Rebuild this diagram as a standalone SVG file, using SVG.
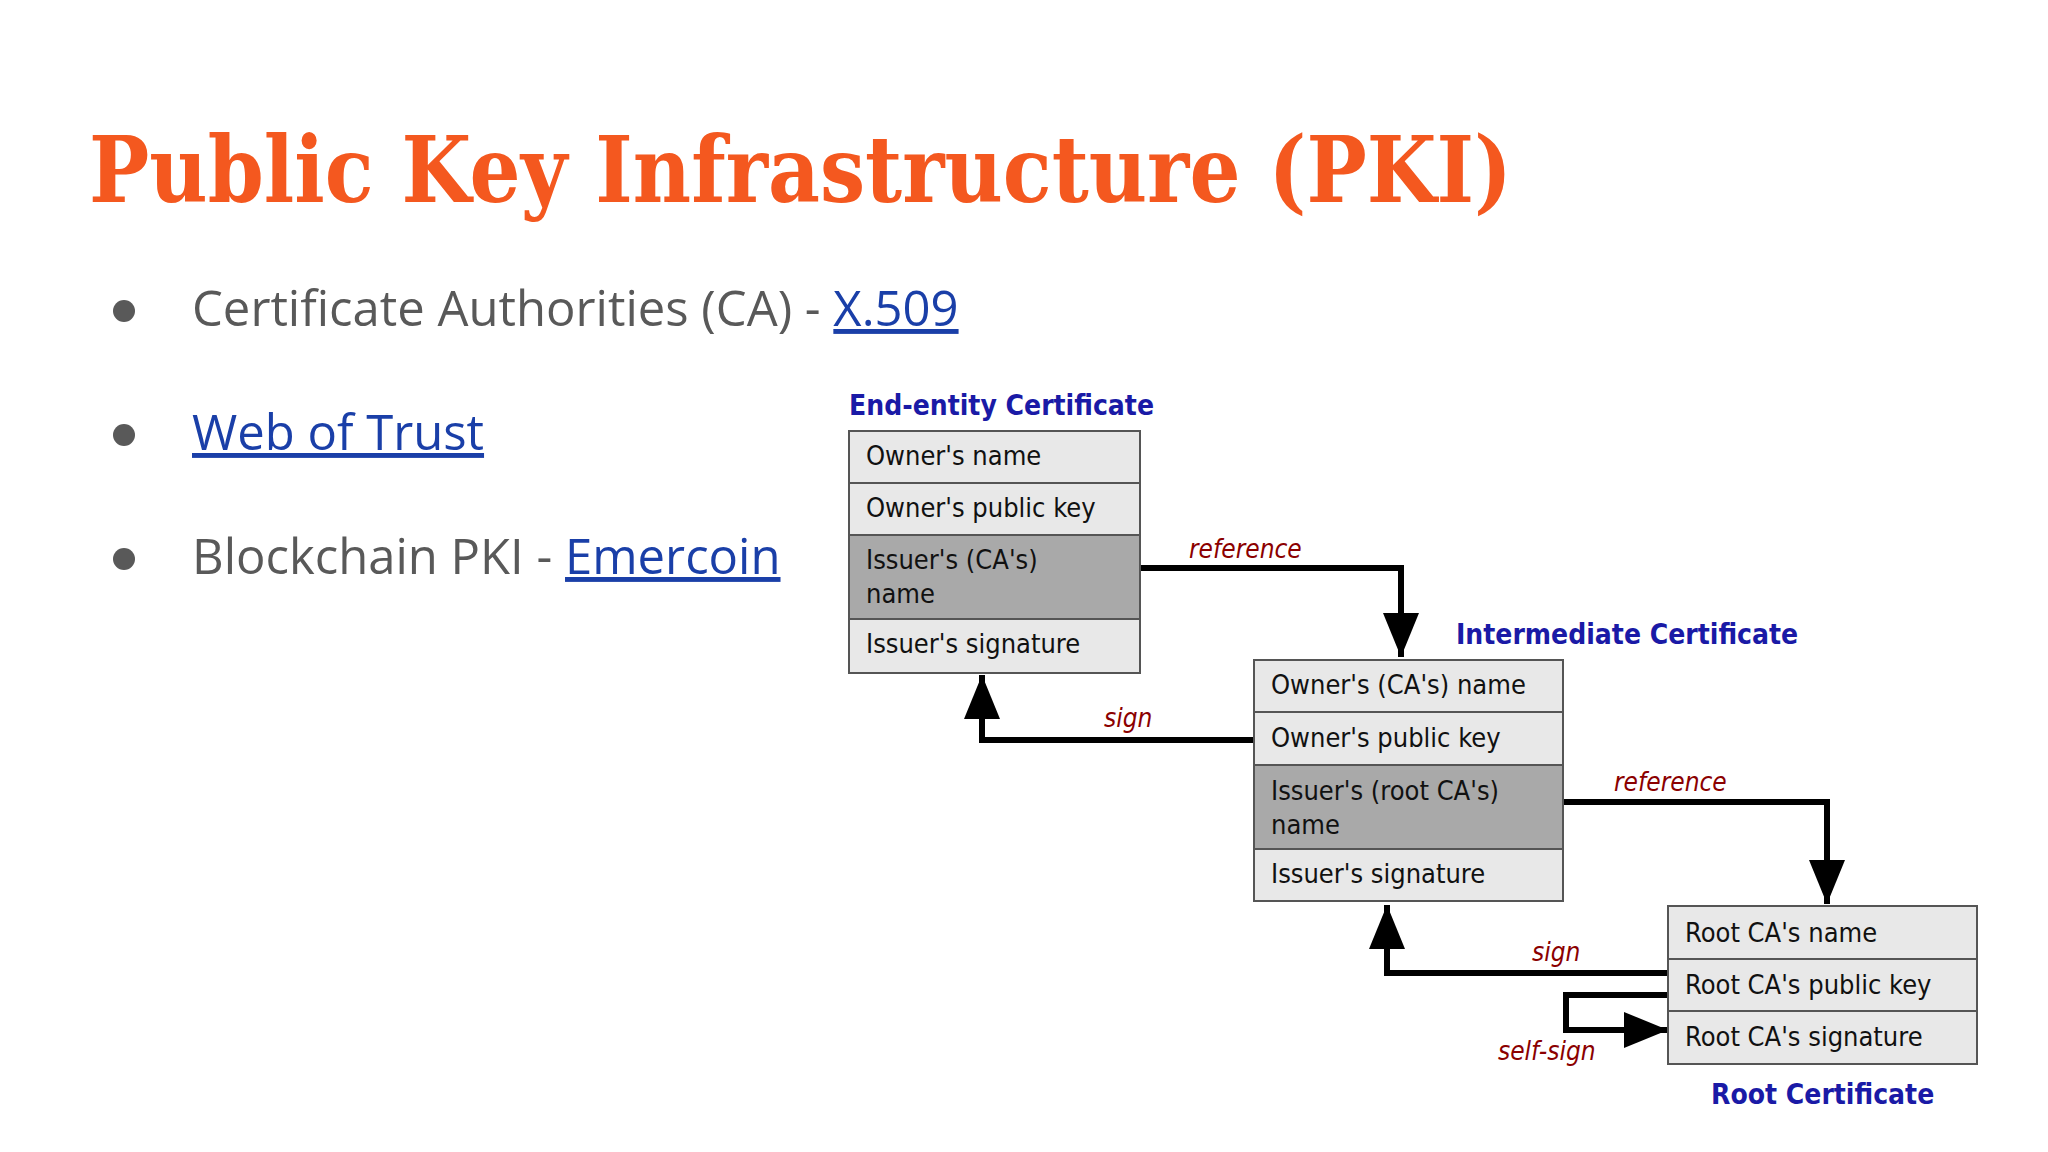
<svg xmlns="http://www.w3.org/2000/svg" width="2048" height="1152" viewBox="0 0 2048 1152">
<style>
.title{font-family:"DejaVu Serif",serif;font-weight:bold;font-size:92px;fill:#f4581f}
.bul{font-family:"Open Sans","Liberation Sans",sans-serif;font-size:49px;fill:#595959}
.lnk{fill:#1a3fa8;text-decoration:underline}
.hdr{font-family:"DejaVu Sans Condensed","DejaVu Sans",sans-serif;font-weight:bold;font-size:28px;fill:#1a1aa6}
.row{font-family:"DejaVu Sans Condensed","DejaVu Sans",sans-serif;font-size:27px;fill:#111}
.lt{fill:#e8e8e8;stroke:#555;stroke-width:2}
.dk{fill:#a9a9a9;stroke:#555;stroke-width:2}
.cn{fill:none;stroke:#000;stroke-width:6}
.lbl{font-family:"DejaVu Sans Condensed","DejaVu Sans",sans-serif;font-style:italic;font-size:26px;fill:#8b0000}
</style>
<defs>
<marker id="ah" markerUnits="userSpaceOnUse" markerWidth="46" markerHeight="36" refX="44" refY="18" orient="auto"><path d="M0,0 L44,18 L0,36 Z" fill="#000"/></marker>
</defs>
<rect width="2048" height="1152" fill="#fff"/>
<text class="title" x="89" y="202" textLength="1423" lengthAdjust="spacingAndGlyphs">Public Key Infrastructure (PKI)</text>
<g id="bullets">
<circle cx="124" cy="311" r="11" fill="#595959"/><circle cx="124" cy="435" r="11" fill="#595959"/><circle cx="124" cy="559" r="11" fill="#595959"/>
<text class="bul" x="192" y="326">Certificate Authorities (CA) - <tspan class="lnk">X.509</tspan></text>
<text class="bul" x="192" y="450"><tspan class="lnk">Web of Trust</tspan></text>
<text class="bul" x="192" y="574">Blockchain PKI - <tspan class="lnk">Emercoin</tspan></text>
</g>
<g id="connectors">
<path class="cn" d="M1140,568 H1401 V657" marker-end="url(#ah)"/>
<path class="cn" d="M1254,740 H982 V675" marker-end="url(#ah)"/>
<path class="cn" d="M1563,802 H1827 V904" marker-end="url(#ah)"/>
<path class="cn" d="M1668,973 H1387 V905" marker-end="url(#ah)"/>
<path class="cn" d="M1668,995 H1566 V1030 H1668" marker-end="url(#ah)"/>
<text class="lbl" x="1189" y="558">reference</text>
<text class="lbl" x="1104" y="727">sign</text>
<text class="lbl" x="1614" y="791">reference</text>
<text class="lbl" x="1532" y="961">sign</text>
<text class="lbl" x="1498" y="1060">self-sign</text>
</g>
<g id="end-entity">
<text class="hdr" x="849" y="415">End-entity Certificate</text>
<rect class="lt" x="849" y="431" width="291" height="52"/>
<rect class="lt" x="849" y="483" width="291" height="52"/>
<rect class="dk" x="849" y="535" width="291" height="84"/>
<rect class="lt" x="849" y="619" width="291" height="54"/>
<text class="row" x="866" y="465">Owner's name</text>
<text class="row" x="866" y="517">Owner's public key</text>
<text class="row" x="866" y="569">Issuer's (CA's)</text>
<text class="row" x="866" y="603">name</text>
<text class="row" x="866" y="653">Issuer's signature</text>
</g>
<g id="intermediate">
<text class="hdr" x="1456" y="644">Intermediate Certificate</text>
<rect class="lt" x="1254" y="660" width="309" height="52"/>
<rect class="lt" x="1254" y="712" width="309" height="53"/>
<rect class="dk" x="1254" y="765" width="309" height="84"/>
<rect class="lt" x="1254" y="849" width="309" height="52"/>
<text class="row" x="1271" y="694">Owner's (CA's) name</text>
<text class="row" x="1271" y="747">Owner's public key</text>
<text class="row" x="1271" y="800">Issuer's (root CA's)</text>
<text class="row" x="1271" y="834">name</text>
<text class="row" x="1271" y="883">Issuer's signature</text>
</g>
<g id="root">
<rect class="lt" x="1668" y="906" width="309" height="53"/>
<rect class="lt" x="1668" y="959" width="309" height="52"/>
<rect class="lt" x="1668" y="1011" width="309" height="53"/>
<text class="row" x="1685" y="942">Root CA's name</text>
<text class="row" x="1685" y="994">Root CA's public key</text>
<text class="row" x="1685" y="1046">Root CA's signature</text>
<text class="hdr" x="1711" y="1104">Root Certificate</text>
</g>
</svg>
